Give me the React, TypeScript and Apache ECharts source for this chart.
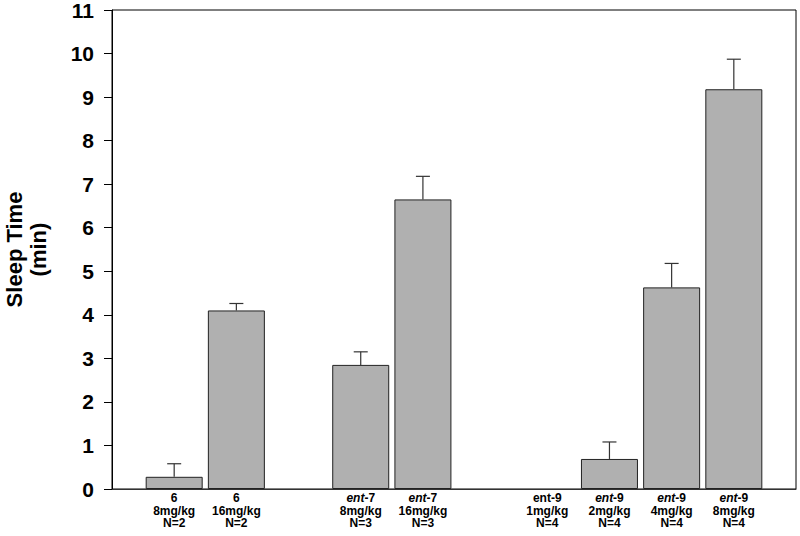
import React, { useEffect, useRef } from "react";
import * as echarts from "echarts";

// Data
const compounds = ["6", "6", "ent-7", "ent-7", "ent-9", "ent-9", "ent-9", "ent-9"];
const italicEnt = [false, false, true, true, false, true, true, true];
const doses = ["8mg/kg", "16mg/kg", "8mg/kg", "16mg/kg", "1mg/kg", "2mg/kg", "4mg/kg", "8mg/kg"];
const nLabels = ["N=2", "N=2", "N=3", "N=3", "N=4", "N=4", "N=4", "N=4"];
const sleepTime = [0.28, 4.1, 2.85, 6.65, 0, 0.69, 4.63, 9.18];
const sem = [0.3, 0.16, 0.3, 0.53, 0, 0.39, 0.55, 0.69];
// groups of bar indices, separated by empty slots on the axis
const groups = [[0, 1], [2, 3], [4, 5, 6, 7]];
const yTicks = { min: 0, max: 11, interval: 1 };

export default function App() {
  const ref = useRef<HTMLDivElement>(null);
  useEffect(() => {
    if (!ref.current) return;
    const chart = echarts.init(ref.current, null, { renderer: "svg" });

    // build category list with gaps
    const cats: string[] = ["gap0"];
    groups.forEach((g, gi) => {
      g.forEach((i) => cats.push(String(i)));
      cats.push("gap" + (gi + 1));
    });
    const barData = cats.map((c) => {
      if (c.startsWith("gap")) return "-";
      const v = sleepTime[Number(c)];
      return v > 0 ? v : { value: v, itemStyle: { borderWidth: 0 } };
    });
    const errData: number[][] = [];
    cats.forEach((c, ci) => {
      if (c.startsWith("gap")) return;
      const i = Number(c);
      if (sem[i] > 0) errData.push([ci, sleepTime[i], sleepTime[i] + sem[i]]);
    });

    const labelFmt = (c: string) => {
      if (c.startsWith("gap")) return "";
      const i = Number(c);
      const comp = compounds[i];
      let first: string;
      if (italicEnt[i] && comp.startsWith("ent")) {
        first = "{it|ent}{b|" + comp.slice(3) + "}";
      } else {
        first = "{b|" + comp + "}";
      }
      return first + "\n{b|" + doses[i] + "}\n{b|" + nLabels[i] + "}";
    };

    const font = "'Liberation Sans', Arial, sans-serif";

    chart.setOption({
      animation: false,
      backgroundColor: "#ffffff",
      grid: {
        left: 112,
        right: 4,
        top: 10,
        bottom: 47,
        containLabel: false,
        outerBoundsMode: "none",
        show: true,
        borderColor: "#000",
        borderWidth: 1,
        backgroundColor: "transparent",
      },
      xAxis: {
        type: "category",
        data: cats,
        boundaryGap: false,
        axisLine: { lineStyle: { color: "#333", width: 1 } },
        axisTick: { show: false },
        splitLine: { show: false },
        axisLabel: {
          interval: 0,
          margin: 3,
          formatter: labelFmt,
          rich: {
            b: {
              fontFamily: font,
              fontWeight: "bold",
              fontSize: 12,
              lineHeight: 12.5,
              color: "#000",
            },
            it: {
              fontFamily: font,
              fontWeight: "bold",
              fontStyle: "italic",
              fontSize: 12,
              lineHeight: 12.5,
              color: "#000",
            },
          },
        },
      },
      yAxis: {
        type: "value",
        min: yTicks.min,
        max: yTicks.max,
        interval: yTicks.interval,
        name: "Sleep Time\n(min)",
        nameLocation: "middle",
        nameRotate: 90,
        nameGap: 62,
        nameTextStyle: {
          fontFamily: font,
          fontWeight: "bold",
          fontSize: 22,
          lineHeight: 24,
          color: "#000",
        },
        axisLine: { show: true, lineStyle: { color: "#000", width: 1 } },
        axisTick: { show: true, inside: false, length: 8, lineStyle: { color: "#000" } },
        splitLine: { show: false },
        axisLabel: {
          margin: 18,
          fontFamily: font,
          fontWeight: "bold",
          fontSize: 21,
          lineHeight: 19,
          color: "#000",
        },
      },
      series: [
        {
          type: "bar",
          data: barData,
          barWidth: 57,
          itemStyle: { color: "#b0b0b0", borderColor: "#222", borderWidth: 1 },
          z: 2,
        },
        {
          type: "custom",
          data: errData,
          encode: { x: 0, y: [1, 2] },
          z: 3,
          renderItem: (params: any, api: any) => {
            const base = api.coord([api.value(0), api.value(1)]);
            const top = api.coord([api.value(0), api.value(2)]);
            const half = 7;
            const style = { stroke: "#333", lineWidth: 1.2 };
            return {
              type: "group",
              children: [
                { type: "line", shape: { x1: base[0], y1: base[1], x2: top[0], y2: top[1] }, style },
                { type: "line", shape: { x1: top[0] - half, y1: top[1], x2: top[0] + half, y2: top[1] }, style },
              ],
            };
          },
        },
      ],
    });
    return () => chart.dispose();
  }, []);
  return (
    <div
      ref={ref}
      style={{ position: "fixed", left: 0, top: 0, width: 800, height: 536 }}
    />
  );
}
